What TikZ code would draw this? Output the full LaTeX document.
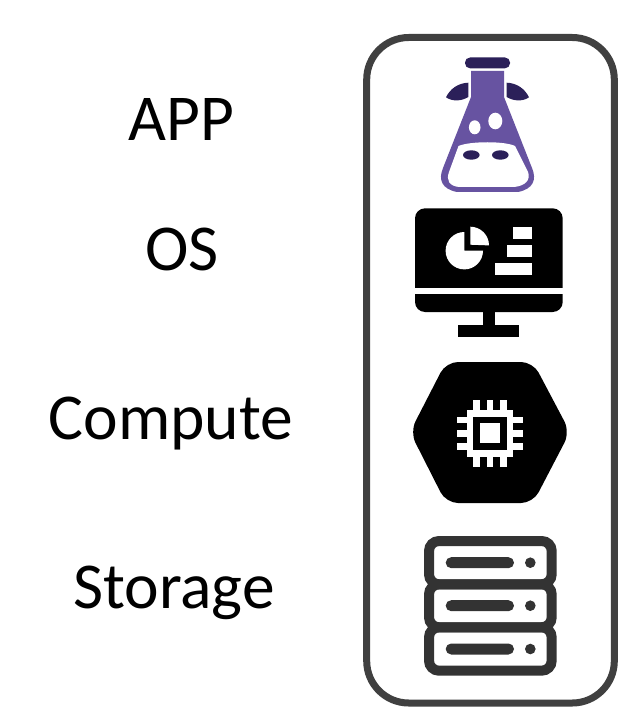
\documentclass[tikz,border=0pt]{standalone}
\usepackage{fontspec}
\setmainfont{Carlito}
\definecolor{flask}{HTML}{6753A1}
\definecolor{flaskdark}{HTML}{2B2059}
\definecolor{frame}{HTML}{404040}
\definecolor{rack}{HTML}{333333}
\tikzset{
  label text/.style={font=\fontsize{65.5}{70}\selectfont,anchor=base,inner sep=0pt,text=black},
  frame box/.style={draw=frame,line width=7pt,fill=white,rounded corners=42pt},
  rack box/.style={draw=rack,line width=10pt,rounded corners=10pt},
  rack bar/.style={fill=rack,rounded corners=5.5pt},
  white part/.style={fill=white,draw=none},
  black part/.style={fill=black,draw=none},
}
\begin{document}
\begin{tikzpicture}[x=1pt,y=-1pt]
\useasboundingbox (0,0) rectangle (627,719);
\fill[white] (0,0) rectangle (627,719);
\node[label text] (app) at (181,141) {APP};
\node[label text] (os) at (182,270) {OS};
\node[label text] (compute) at (171,439) {Compute};
\node[label text] (storage) at (174,608) {Storage};
\draw[frame box] (366.7,37.5) rectangle (614.3,703);
% flask
\fill[flaskdark,rounded corners=5pt] (465,57.5) rectangle (510,68.3);
\fill[flask] (471,71) -- (504,71) -- (504,97) -- (532,168)
  .. controls (537,180) and (533,189) .. (518,192)
  -- (457,192) .. controls (442,189) and (438,180) .. (443,168)
  -- (471,97) -- cycle;
\fill[white] (458.5,146) .. controls (470,141) and (505,141) .. (515,146)
  -- (528,172) .. controls (531,180) and (525,186) .. (514,187)
  -- (459,187) .. controls (449,186) and (446,180) .. (449,172) -- cycle;
\fill[flaskdark] (468.3,82.7) .. controls (458,83) and (450,89) .. (446,97.3)
  .. controls (452,101.5) and (461,101.5) .. (468.3,97) -- cycle;
\fill[flaskdark] (506.7,82.7) .. controls (517,83) and (525,89) .. (529,97.3)
  .. controls (523,101.5) and (514,101.5) .. (506.7,97) -- cycle;
\fill[white] (474.7,127.3) ellipse [x radius=5.8,y radius=7];
\fill[white] (495.3,121) ellipse [x radius=7,y radius=8.3];
\fill[flaskdark] (471.3,155) ellipse [x radius=8.3,y radius=4.7];
\fill[flaskdark] (500.3,155) ellipse [x radius=8.3,y radius=4.7];
% monitor
\fill[black part,rounded corners=10pt] (415,208.3) rectangle (562.7,312);
\fill[white part] (415,288) rectangle (562.7,294.3);
\fill[black part] (482.7,312) rectangle (495,325);
\fill[black part] (457.7,325) rectangle (519.3,337);
\fill[white part] (464.3,232) arc[start angle=-90,end angle=-360,radius=18.7] -- (464.3,250.7) -- cycle;
\fill[white part] (470.3,226.7) arc[start angle=-90,end angle=0,radius=18.7] -- (470.3,244.7) -- cycle;
\fill[white part] (513.3,226.7) rectangle (532.3,238.7);
\fill[white part] (507.3,245) rectangle (532.3,257);
\fill[white part] (495,263.3) rectangle (532.3,275.3);
% hexagon
\fill[black part,rounded corners=12pt] (410,432) -- (446,362) -- (533,362) -- (570,432) -- (533,503) -- (446,503) -- cycle;
\begin{scope}[shift={(490,433.3)}]
  \fill[white part] (-23.3,-23.3) rectangle (23.3,23.3);
  \fill[black part] (-16.7,-16.7) rectangle (16.7,16.7);
  \fill[white part] (-10,-10) rectangle (10,10);
  \foreach \d in {-16.7,-3.3,10}{
    \fill[white part] (\d,-33.3) rectangle (\d+6.7,-23);
    \fill[white part] (\d,23) rectangle (\d+6.7,33.3);
    \fill[white part] (-33.3,\d) rectangle (-23,\d+6.7);
    \fill[white part] (23,\d) rectangle (33.3,\d+6.7);
  }
\end{scope}
% storage
\foreach \t/\b in {541/584.3,584.3/627.3,627.3/670.7}{
  \draw[rack box] (429,\t) rectangle (551.7,\b);
}
\foreach \c in {562.7,605.7,649}{
  \fill[rack bar] (445.7,\c-5.5) rectangle (514,\c+5.5);
  \fill[rack] (530.3,\c) circle (5.3);
}
\end{tikzpicture}
\end{document}
